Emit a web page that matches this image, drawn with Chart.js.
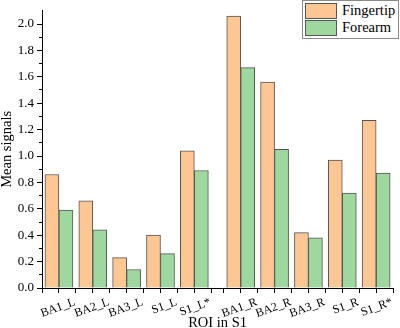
<!DOCTYPE html>
<html>
<head>
<meta charset="utf-8">
<script src="https://cdn.jsdelivr.net/npm/chart.js@4.4.0/dist/chart.umd.min.js"></script>
<style>
  html, body { margin: 0; padding: 0; background: #fff; }
  #wrap { position: relative; width: 400px; height: 328px; }
  #legend {
    position: absolute; left: 302px; top: 0; width: 95px; height: 37px;
    border: 1px solid #8a8a8a; background: #fff;
    font-family: 'Liberation Serif', 'Times New Roman', serif; font-size: 14.5px; color: #000;
  }
  .sw { position: absolute; left: 2px; width: 30px; height: 14px; border: 1px solid #555; }
  .lb { position: absolute; left: 39px; line-height: 16px; white-space: nowrap; }
</style>
</head>
<body>
<div id="wrap">
  <canvas id="myBarChart" width="400" height="328"></canvas>
  <div id="legend"></div>
</div>
<script>
var categories = ['BA1_L', 'BA2_L', 'BA3_L', 'S1_L', 'S1_L*', 'BA1_R', 'BA2_R', 'BA3_R', 'S1_R', 'S1_R*'];
var fingertip = [0.86, 0.66, 0.23, 0.40, 1.04, 2.06, 1.56, 0.42, 0.97, 1.27];
var forearm   = [0.59, 0.44, 0.14, 0.26, 0.89, 1.67, 1.05, 0.38, 0.72, 0.87];
var seriesNames = ['Fingertip', 'Forearm'];
var yTickLabels = ['0.0', '0.2', '0.4', '0.6', '0.8', '1.0', '1.2', '1.4', '1.6', '1.8', '2.0'];

var orange = '#fdc794';
var green = '#9fd89f';
var edge = '#555555';
var serif = "'Liberation Serif', 'Times New Roman', serif";

// left hemisphere groups sit at 1..5, right ones are shifted a bit further out
var gap = 0.37;
var xPos = categories.map(function (c, i) { return i + 1 + (i >= 5 ? gap : 0); });

var xTicks = [];
xPos.forEach(function (p) {
  [p - 0.5, p, p + 0.5].forEach(function (v) {
    v = Math.round(v * 100) / 100;
    if (xTicks.indexOf(v) < 0) xTicks.push(v);
  });
});
xTicks.sort(function (a, b) { return a - b; });

var yTicks = [];
for (let i = 0; i <= 20; i++) yTicks.push(i / 10);

function labelFor(v) {
  for (let i = 0; i < xPos.length; i++) {
    if (Math.abs(xPos[i] - v) < 1e-6) return categories[i];
  }
  return '';
}

function points(vals) {
  return vals.map(function (v, i) { return { x: xPos[i], y: v }; });
}

// legend
var leg = document.getElementById('legend');
[orange, green].forEach(function (col, i) {
  var sw = document.createElement('div');
  sw.className = 'sw';
  sw.style.top = (2 + i * 17) + 'px';
  sw.style.background = col;
  leg.appendChild(sw);
  var lb = document.createElement('div');
  lb.className = 'lb';
  lb.style.top = (1 + i * 17) + 'px';
  lb.textContent = seriesNames[i];
  leg.appendChild(lb);
});

var ctx = document.getElementById('myBarChart');

var myChart = new Chart(ctx, {
  type: 'bar',
  data: {
    datasets: [{
      label: seriesNames[0],
      data: points(fingertip),
      backgroundColor: orange,
      borderColor: edge,
      borderWidth: 1,
      barThickness: 14
    }, {
      label: seriesNames[1],
      data: points(forearm),
      backgroundColor: green,
      borderColor: edge,
      borderWidth: 1,
      barThickness: 14
    }]
  },
  options: {
    responsive: false,
    animation: false,
    layout: { padding: 0, autoPadding: false },
    plugins: {
      legend: { display: false },
      tooltip: { enabled: false }
    },
    scales: {
      x: {
        type: 'linear',
        min: 0.5,
        max: xPos[xPos.length - 1] + 0.5,
        offset: false,
        afterBuildTicks: function (axis) {
          axis.ticks = xTicks.map(function (v) { return { value: v }; });
        },
        afterFit: function (s) { s.height = 40; },
        border: { color: '#000', width: 1 },
        grid: { drawOnChartArea: false, offset: false, tickLength: 5, tickColor: '#000' },
        ticks: {
          autoSkip: false,
          minRotation: 20,
          maxRotation: 20,
          labelOffset: 16,
          padding: 2,
          color: '#000',
          font: { family: serif, size: 12 },
          callback: function (v) { return labelFor(v); }
        },
        title: {
          display: true,
          text: 'ROI in S1',
          color: '#000',
          padding: { top: 0, bottom: 0 },
          font: { family: serif, size: 14.5, lineHeight: 0.6 }
        }
      },
      y: {
        min: 0,
        max: 2.1,
        afterBuildTicks: function (axis) {
          axis.ticks = yTicks.map(function (v) { return { value: v }; });
        },
        afterFit: function (s) { s.width = 42; },
        border: { color: '#000', width: 1 },
        grid: {
          drawOnChartArea: false,
          tickLength: 5,
          tickColor: '#000',
          tickBorderDash: function (c) {
            return c.index % 2 === 1 ? [0, 2, 3, 10] : [];
          }
        },
        ticks: {
          autoSkip: false,
          padding: 3,
          color: '#000',
          font: { family: serif, size: 13 },
          callback: function (v, i) { return i % 2 === 0 ? yTickLabels[i / 2] : ''; }
        },
        title: {
          display: true,
          text: 'Mean signals',
          color: '#000',
          padding: { top: 0, bottom: 0 },
          font: { family: serif, size: 14.5, lineHeight: 1 }
        }
      }
    }
  }
});
</script>
</body>
</html>
